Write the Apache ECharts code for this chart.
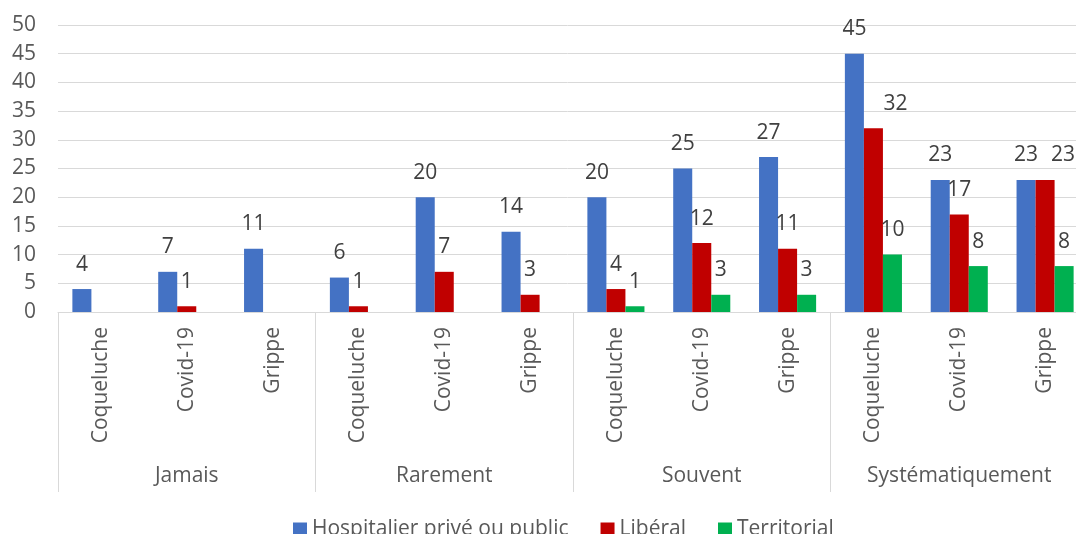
<!DOCTYPE html>
<html>
<head>
<meta charset="utf-8">
<script src="https://cdn.jsdelivr.net/npm/echarts@6/dist/echarts.min.js"></script>
<style>html,body{margin:0;padding:0;background:#fff}#c{width:1076px;height:534px}</style>
</head>
<body>
<div id="c"></div>
<script>
const groups = ['Jamais', 'Rarement', 'Souvent', 'Systématiquement'];
const diseases = ['Coqueluche', 'Covid-19', 'Grippe'];
const seriesNames = ['Hospitalier privé ou public', 'Libéral', 'Territorial'];
const hospitalier = [4, 7, 11, 6, 20, 14, 20, 25, 27, 45, 23, 23];
const liberal = [null, 1, null, 1, 7, 3, 4, 12, 11, 32, 17, 23];
const territorial = [null, null, null, null, null, null, 1, 3, 3, 10, 8, 8];
const yTicks = { min: 0, max: 50, interval: 5 };

const colors = ['#4472C4', '#C00000', '#00B050'];
const font = '"Open Sans", sans-serif';
const txt = '#595959';
// label nudges (series index -> {category index: [dx, dy]})
const labelNudges = { 1: { 9: [22, 0], 11: [18, 0] } };

const categories = [];
groups.forEach(() => diseases.forEach(d => categories.push(d)));

const chart = echarts.init(document.getElementById('c'), null, { renderer: 'canvas' });
const values = [hospitalier, liberal, territorial];
chart.setOption({
  animation: false,
  textStyle: { fontFamily: font },
  color: colors,
  grid: { left: 58, width: 1030, top: 25, height: 287, outerBoundsMode: 'none', containLabel: false },
  legend: {
    top: 514, left: 288,
    itemWidth: 14, itemHeight: 14, itemGap: 32,
    icon: 'rect',
    textStyle: { fontFamily: font, fontSize: 21, color: txt },
    data: seriesNames
  },
  xAxis: [
    {
      type: 'category', data: categories, position: 'bottom',
      axisLine: { lineStyle: { color: '#d9d9d9', width: 1 } },
      axisTick: { show: false },
      axisLabel: { rotate: 90, margin: 15, fontSize: 21, color: txt, fontFamily: font, interval: 0 }
    },
    {
      type: 'category', data: groups, position: 'bottom',
      axisLine: { show: false },
      axisTick: { show: true, length: 180, lineStyle: { color: '#d9d9d9' } },
      axisLabel: { margin: 154, fontSize: 21, color: txt, fontFamily: font, interval: 0 }
    }
  ],
  yAxis: {
    type: 'value', min: yTicks.min, max: yTicks.max, interval: yTicks.interval,
    axisLine: { show: false }, axisTick: { show: false },
    axisLabel: { margin: 22, fontSize: 21, color: txt, fontFamily: font },
    splitLine: { lineStyle: { color: '#d9d9d9', width: 1 } }
  },
  series: seriesNames.map((n, i) => ({
    name: n, type: 'bar', xAxisIndex: 0,
    data: values[i].map((v, j) => {
      const nudge = labelNudges[i] && labelNudges[i][j];
      return nudge ? { value: v, label: { offset: nudge } } : v;
    }),
    barGap: '0%', barCategoryGap: '33.5%',
    itemStyle: { color: colors[i] },
    label: { show: true, position: 'top', distance: 14, fontSize: 21, color: '#404040', fontFamily: font }
  }))
});
</script>
</body>
</html>
